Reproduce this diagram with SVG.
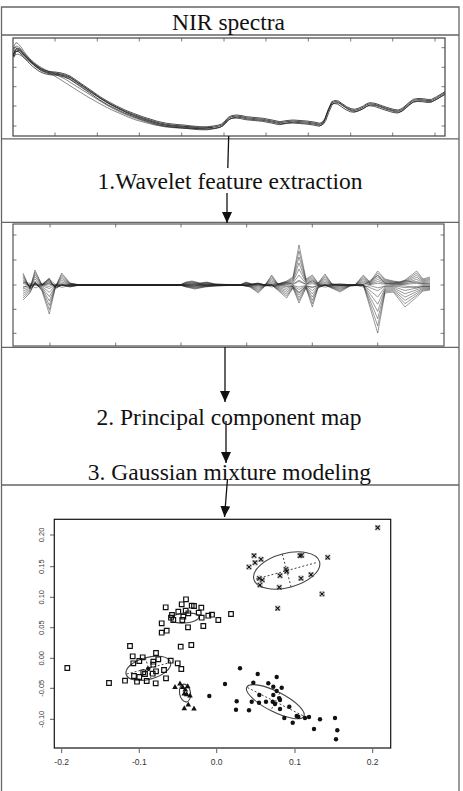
<svg xmlns="http://www.w3.org/2000/svg" xmlns:xlink="http://www.w3.org/1999/xlink" width="463" height="791" viewBox="0 0 463 791">
<style>
.frame{fill:none;stroke:#666;stroke-width:1.3}
.plotbox{fill:#fff;stroke:#444;stroke-width:1.2}
.tick{stroke:#555;stroke-width:0.8}
.title{font-family:"Liberation Serif","Times New Roman",serif;font-size:23.5px;fill:#111;text-anchor:middle}
.ax{font-family:"Liberation Sans",Arial,sans-serif;fill:#333;text-anchor:middle}
.spec{fill:none;stroke:#222;stroke-width:0.8;stroke-linejoin:round}
.spec2{fill:none;stroke:#555;stroke-width:0.7;stroke-linejoin:round}
.wv{fill:none;stroke:#222;stroke-opacity:0.65;stroke-width:0.7;stroke-linejoin:round}
.conn{stroke:#111;stroke-width:1.3;fill:none}
.ell{fill:none;stroke:#444;stroke-width:1.1}
.dot{fill:none;stroke:#444;stroke-width:1;stroke-dasharray:2 2}
</style>
<defs>
<marker id="ah" viewBox="0 0 11 10" refX="11" refY="5" markerWidth="11" markerHeight="10" markerUnits="userSpaceOnUse" orient="auto">
<path d="M0,0L11,5L0,10z" fill="#111"/>
</marker>
<clipPath id="cspec"><rect x="13" y="38" width="432" height="98"/></clipPath>
<clipPath id="cwav"><rect x="13" y="224" width="431" height="122"/></clipPath>
<path id="sq" d="M-2.3,-2.3h4.6v4.6h-4.6z" fill="none" stroke="#111" stroke-width="1.2"/>
<g id="cr"><path d="M-2.2,-2.2L2.2,2.2M-2.2,2.2L2.2,-2.2" stroke="#111" stroke-width="1.2"/><path d="M-2.2,-2.2h4.4v4.4h-4.4z" fill="none" stroke="#777" stroke-width="0.5"/></g>
<circle id="dt" r="2.2" fill="#111"/>
<path id="tr" d="M0,-2.8L2.8,2.2L-2.8,2.2z" fill="#111"/>
<polyline id="specmain" class="spec" points="13.3,55 15,50 17,48 20,49 23.3,53 28,58 33.3,63.3 40,68.3 45,70.5 50,71.7 55,72 60,72.7 65,74 70,76 76,80 83.3,85 92,91 100,96.7 108,101.5 116.7,106 125,110 133.3,113.3 142,116.5 150,119 158,121.5 166.7,123.3 175,124.3 183.3,125 192,126 200,126.7 207,126.8 213.3,126 218,125.2 221.7,124 225,121 228.3,117.3 232,115.5 236.7,115 241,115.5 246.7,116.7 255,117.5 263.3,118.3 272,120 280,121.7 287,120.5 293.3,120 300,120.5 306.7,121 314,122 320,123.3 323,121.5 325,118.3 328,110 331.7,101.7 335,100.5 338.3,101 342,103.5 346.7,106.7 351,108.7 355,109.3 359,108 363.3,106 367,103.5 370,102.7 375,103.3 380,105 385,106.8 390,108.3 394,109.5 398.3,110 402,108.5 405,106 409,102.5 413.3,99.3 418,98.5 423.3,98.7 428,99.5 431.7,99.3 434,98 436.7,96.7 441,94 445,91.7"/>
<polyline id="wa" class="wv" vector-effect="non-scaling-stroke" points="23,-12 30,4 35,-15 42,0 49,-7 55,3 61.7,-12 70,-2 80,0 180,0 186,-3 192,-4 200,-2 207,-3 215,-1 240,0 246,-3 252,-1 258,-2 265,0 271.7,-10 278,-1 286.7,-4 293,-8 299,-40 306,-6 312.3,-10 318,-2 325,-11 332,-1 340,0 355,0 363.3,-10 370,-3 377.7,-14 385,-6 393.3,-4 400,-3 405,-5 416.7,-14 423,-6 430,-8"/>
<polyline id="wb" class="wv" vector-effect="non-scaling-stroke" points="23,15 30,8 35,-3 42,6 49.3,29 55,4 61.7,0 70,2 80,0 180,0 186,2 195,4 205,2 215,1 240,0 250,2 258.3,8 265,1 271.7,0 286.7,13 293,3 299,18 306,3 312.3,22 318,3 325,0 340,7 350,1 363.3,0 377.7,48 385,8 393.3,7 405,22 416.7,12 423,6 430,5"/>
</defs>
<rect width="463" height="791" fill="#fff"/>

<g id="frame">
<path class="frame" d="M1.5,791V7H459V791M1.5,35H459M1.5,138.8H459M1.5,222.3H459M1.5,347.3H459M1.5,485H459"/>
</g>

<g id="node-nir-header">
<text class="title" x="228.5" y="30">NIR spectra</text>
</g>

<g id="node-spectra-plot">
<rect class="plotbox" x="13" y="38" width="432" height="98"/>
<path class="tick" d="M55,38v3.5M97.3,38v3.5M139.3,38v3.5M181.7,38v3.5M224,38v3.5M266,38v3.5M308.3,38v3.5M350.7,38v3.5M392.7,38v3.5M435,38v3.5M55,136v-3.5M97.3,136v-3.5M139.3,136v-3.5M181.7,136v-3.5M224,136v-3.5M266,136v-3.5M308.3,136v-3.5M350.7,136v-3.5M392.7,136v-3.5M435,136v-3.5M13,47.7h3.5M13,67.3h3.5M13,86.7h3.5M13,106h3.5M13,126h3.5M445,47.7h-3.5M445,67.3h-3.5M445,86.7h-3.5M445,106h-3.5M445,126h-3.5"/>
<g clip-path="url(#cspec)">
<polyline class="spec2" points="13.3,50 14.5,45 16,42.7 18,43.5 21,47 25,53 30,59 34,63.3 40,68"/>
<polyline class="spec2" points="13.3,52 15,47 17,46 20,48 24,53 30,59 36,64 42,68 48,71 55,73 62,75.5 70,79 78,84 86,89.5 95,95 105,101 115,107 125,112 135,116.5 145,120 155,123 165,125 175,126 185,126.5 195,127"/>
<polyline class="spec2" points="13.3,54 15,52 18,51 22,54 27,58.5 33,63 40,67.5 46,70.5 52,73 58,75.5 65,79 72,83.5 80,88.5 88,93.5 96,98.5 104,103.5 112,108 120,112 128,115.5 136,118.5 145,121.5 155,124.5 165,126.5 175,127.5 185,128 195,128.2 205,128 213,127"/>
<polyline class="spec2" points="13.3,56 15,55 18,54 22,56 27,60 33,64 40,68.5 46,71.5 52,74.5 58,78 65,82.5 72,87 80,92 88,97 96,101.5 104,106 112,110 120,113.5 128,117 136,120 145,122.5 155,125 165,126.8 175,127.8 185,128.3 195,128.5 205,128.2 213,127.3"/>
<use href="#specmain"/>
<use href="#specmain" transform="translate(0,1.1)"/>
<use href="#specmain" transform="translate(0.8,2.2)"/>
<use href="#specmain" transform="translate(-0.8,3)"/>
</g>
</g>

<g id="node-wavelet-text">
<text class="title" x="230" y="189">1.Wavelet feature extraction</text>
</g>

<g id="node-wavelet-plot">
<rect class="plotbox" x="13" y="224" width="431" height="122" style="stroke:#555"/>
<path class="tick" d="M50,224v3.5M115.7,224v3.5M181,224v3.5M246.7,224v3.5M312.3,224v3.5M377.7,224v3.5M50,346v-3.5M115.7,346v-3.5M181,346v-3.5M246.7,346v-3.5M312.3,346v-3.5M377.7,346v-3.5M13,235h3.5M13,260h3.5M13,285h3.5M13,309.3h3.5M13,333.3h3.5M444,235h-3.5M444,260h-3.5M444,285h-3.5M444,309.3h-3.5M444,333.3h-3.5"/>
<g clip-path="url(#cwav)">
<g transform="translate(0,285)">
<use href="#wa"/><use href="#wa" transform="scale(1,0.85)"/><use href="#wa" transform="scale(1,0.7)"/><use href="#wa" transform="scale(1,0.55)"/><use href="#wa" transform="scale(1,0.4)"/><use href="#wa" transform="scale(1,0.25)"/><use href="#wa" transform="scale(1,0.12)"/><use href="#wa" transform="scale(1,-0.2)"/>
<use href="#wb"/><use href="#wb" transform="scale(1,0.85)"/><use href="#wb" transform="scale(1,0.7)"/><use href="#wb" transform="scale(1,0.55)"/><use href="#wb" transform="scale(1,0.4)"/><use href="#wb" transform="scale(1,0.25)"/><use href="#wb" transform="scale(1,0.12)"/><use href="#wb" transform="scale(1,-0.2)"/>
</g>
</g>
</g>

<g id="node-pca-text">
<text class="title" x="229" y="425">2. Principal component map</text>
</g>

<g id="node-gmm-text">
<text class="title" x="229.5" y="480">3. Gaussian mixture modeling</text>
</g>

<g id="node-scatter">
<rect x="54.3" y="519.3" width="336.4" height="228.7" fill="none" stroke="#111" stroke-width="1.2"/>
<path class="tick" style="stroke:#333" d="M61.7,749v4M139.3,749v4M216.7,749v4M295,749v4M372.7,749v4M50,535h4.3M50,566.7h4.3M50,597.3h4.3M50,627.7h4.3M50,658.3h4.3M50,688.3h4.3M50,719.3h4.3"/>
<g class="ax" font-size="8.5">
<text x="61.7" y="765">-0.2</text><text x="139.3" y="765">-0.1</text><text x="216.7" y="765">0.0</text><text x="295" y="765">0.1</text><text x="372.7" y="765">0.2</text>
</g>
<g class="ax" font-size="7.5">
<text transform="translate(43.5,535) rotate(-90)">0.20</text>
<text transform="translate(43.5,566.7) rotate(-90)">0.15</text>
<text transform="translate(43.5,597.3) rotate(-90)">0.10</text>
<text transform="translate(43.5,627.7) rotate(-90)">0.05</text>
<text transform="translate(43.5,658.3) rotate(-90)">0.00</text>
<text transform="translate(43.5,688.3) rotate(-90)">-0.05</text>
<text transform="translate(43.5,719.3) rotate(-90)">-0.10</text>
</g>
<ellipse class="ell" cx="286.7" cy="570.5" rx="34" ry="17" transform="rotate(-15 286.7 570.5)"/>
<path class="dot" d="M256,579L317.5,562.3M282.3,554.1L291.1,586.9"/>
<ellipse class="ell" cx="185" cy="618" rx="14" ry="5" transform="rotate(-5 185 618)"/>
<ellipse class="ell" cx="148.3" cy="668.3" rx="23" ry="11" transform="rotate(-15 148.3 668.3)"/>
<path class="dot" d="M126.8,674L169.8,662.6M145.5,657.7L151.1,678.9"/>
<ellipse class="ell" cx="185" cy="693" rx="5.5" ry="9" transform="rotate(-10 185 693)"/>
<ellipse class="ell" cx="275.3" cy="701.7" rx="32" ry="10" transform="rotate(27 275.3 701.7)"/>
<path class="dot" d="M247.5,687.6L303.1,715.8M279.8,692.8L270.8,710.6"/>
<use href="#cr" x="377.7" y="527.7"/><use href="#cr" x="254" y="555.7"/><use href="#cr" x="255" y="562.7"/><use href="#cr" x="261" y="559.3"/><use href="#cr" x="249" y="567"/><use href="#cr" x="301.7" y="555.3"/><use href="#cr" x="300" y="555.7"/><use href="#cr" x="327.7" y="557.3"/><use href="#cr" x="286" y="569.3"/><use href="#cr" x="286.7" y="571.3"/><use href="#cr" x="280" y="575.7"/><use href="#cr" x="311" y="574.7"/><use href="#cr" x="301" y="578.3"/><use href="#cr" x="259.3" y="578.3"/><use href="#cr" x="262.3" y="580"/><use href="#cr" x="260" y="585"/><use href="#cr" x="279.3" y="587.3"/><use href="#cr" x="322" y="594"/><use href="#cr" x="277.7" y="608.3"/>
<use href="#sq" x="186" y="599.3"/><use href="#sq" x="181.7" y="604.3"/><use href="#sq" x="191.7" y="605.7"/><use href="#sq" x="194" y="606"/><use href="#sq" x="165.7" y="607.3"/><use href="#sq" x="201.3" y="607.7"/><use href="#sq" x="178.3" y="611.7"/><use href="#sq" x="185.7" y="610.7"/><use href="#sq" x="188.3" y="613.3"/><use href="#sq" x="198.7" y="612.7"/><use href="#sq" x="172" y="615"/><use href="#sq" x="212" y="614.7"/><use href="#sq" x="208.3" y="615.7"/><use href="#sq" x="231" y="614"/><use href="#sq" x="171" y="617.7"/><use href="#sq" x="183.3" y="616.7"/><use href="#sq" x="201.7" y="617.7"/><use href="#sq" x="173.3" y="620"/><use href="#sq" x="182.3" y="620"/><use href="#sq" x="218.3" y="620"/><use href="#sq" x="161.7" y="623.3"/><use href="#sq" x="203.3" y="626"/><use href="#sq" x="188" y="627.3"/><use href="#sq" x="166.7" y="630.7"/><use href="#sq" x="161.7" y="632.7"/>
<use href="#sq" x="130" y="646"/><use href="#sq" x="180.7" y="646.7"/><use href="#sq" x="191.3" y="645"/><use href="#sq" x="156" y="653"/><use href="#sq" x="132.7" y="656.3"/><use href="#sq" x="142.7" y="657.3"/><use href="#sq" x="139.3" y="661"/><use href="#sq" x="158.3" y="659.3"/><use href="#sq" x="153.3" y="661.7"/><use href="#sq" x="170.7" y="660.7"/><use href="#sq" x="133.3" y="663.3"/><use href="#sq" x="177.7" y="663.3"/><use href="#sq" x="153.3" y="664.7"/><use href="#sq" x="67.3" y="668"/><use href="#dt" x="148.3" y="668.7"/><use href="#sq" x="181.3" y="669"/><use href="#sq" x="164" y="670"/><use href="#sq" x="156" y="671.3"/><use href="#sq" x="143.3" y="672.3"/><use href="#sq" x="152.7" y="673.7"/><use href="#sq" x="145" y="674"/><use href="#sq" x="134" y="676"/><use href="#sq" x="139.3" y="677"/><use href="#sq" x="166" y="678.3"/><use href="#sq" x="125" y="680.7"/><use href="#sq" x="146.7" y="681"/><use href="#sq" x="137" y="681.7"/><use href="#sq" x="155.7" y="683.3"/><use href="#sq" x="109" y="683"/>
<use href="#tr" x="180" y="683.3"/><use href="#tr" x="175" y="686.7"/><use href="#tr" x="182.7" y="686.7"/><use href="#tr" x="187.7" y="686"/><use href="#tr" x="185.3" y="689.3"/><use href="#tr" x="184.3" y="693.3"/><use href="#tr" x="186.7" y="694"/><use href="#tr" x="190" y="695.3"/><use href="#tr" x="188.3" y="704.3"/><use href="#tr" x="184.3" y="708"/><use href="#tr" x="194" y="708.3"/>
<use href="#dt" x="209.3" y="696"/><use href="#dt" x="225" y="684"/><use href="#dt" x="240" y="668.3"/><use href="#dt" x="257.7" y="674"/><use href="#dt" x="276.7" y="677"/><use href="#dt" x="253.3" y="682.7"/><use href="#dt" x="268.3" y="683.3"/><use href="#dt" x="273.3" y="686.7"/><use href="#dt" x="281.7" y="687.7"/><use href="#dt" x="276.7" y="691"/><use href="#dt" x="273.3" y="695"/><use href="#dt" x="259.3" y="695"/><use href="#dt" x="279.3" y="698.3"/><use href="#dt" x="280" y="700"/><use href="#dt" x="236.7" y="701.3"/><use href="#dt" x="251.7" y="701.7"/><use href="#dt" x="259" y="702.7"/><use href="#dt" x="266" y="701.7"/><use href="#dt" x="272.7" y="701.7"/><use href="#dt" x="275" y="704"/><use href="#dt" x="289.3" y="706.7"/><use href="#dt" x="236" y="709.7"/><use href="#dt" x="249" y="710.3"/><use href="#dt" x="280" y="709"/><use href="#dt" x="296.7" y="716"/><use href="#dt" x="298.3" y="716.7"/><use href="#dt" x="284.3" y="718"/><use href="#dt" x="305" y="718"/><use href="#dt" x="309" y="717"/><use href="#dt" x="320" y="719.3"/><use href="#dt" x="335" y="718"/><use href="#dt" x="292.7" y="722.7"/><use href="#dt" x="314" y="729"/><use href="#dt" x="337.3" y="730.3"/><use href="#dt" x="336" y="739.3"/>
</g>

<g id="connectors">
<path class="conn" d="M228.7,136L227.8,168"/>
<path class="conn" d="M227,193L227,223" marker-end="url(#ah)"/>
<path class="conn" d="M225,347L225,402" marker-end="url(#ah)"/>
<path class="conn" d="M226,421L226,463" marker-end="url(#ah)"/>
<path class="conn" d="M227.5,479L224.5,517" marker-end="url(#ah)"/>
</g>
</svg>
